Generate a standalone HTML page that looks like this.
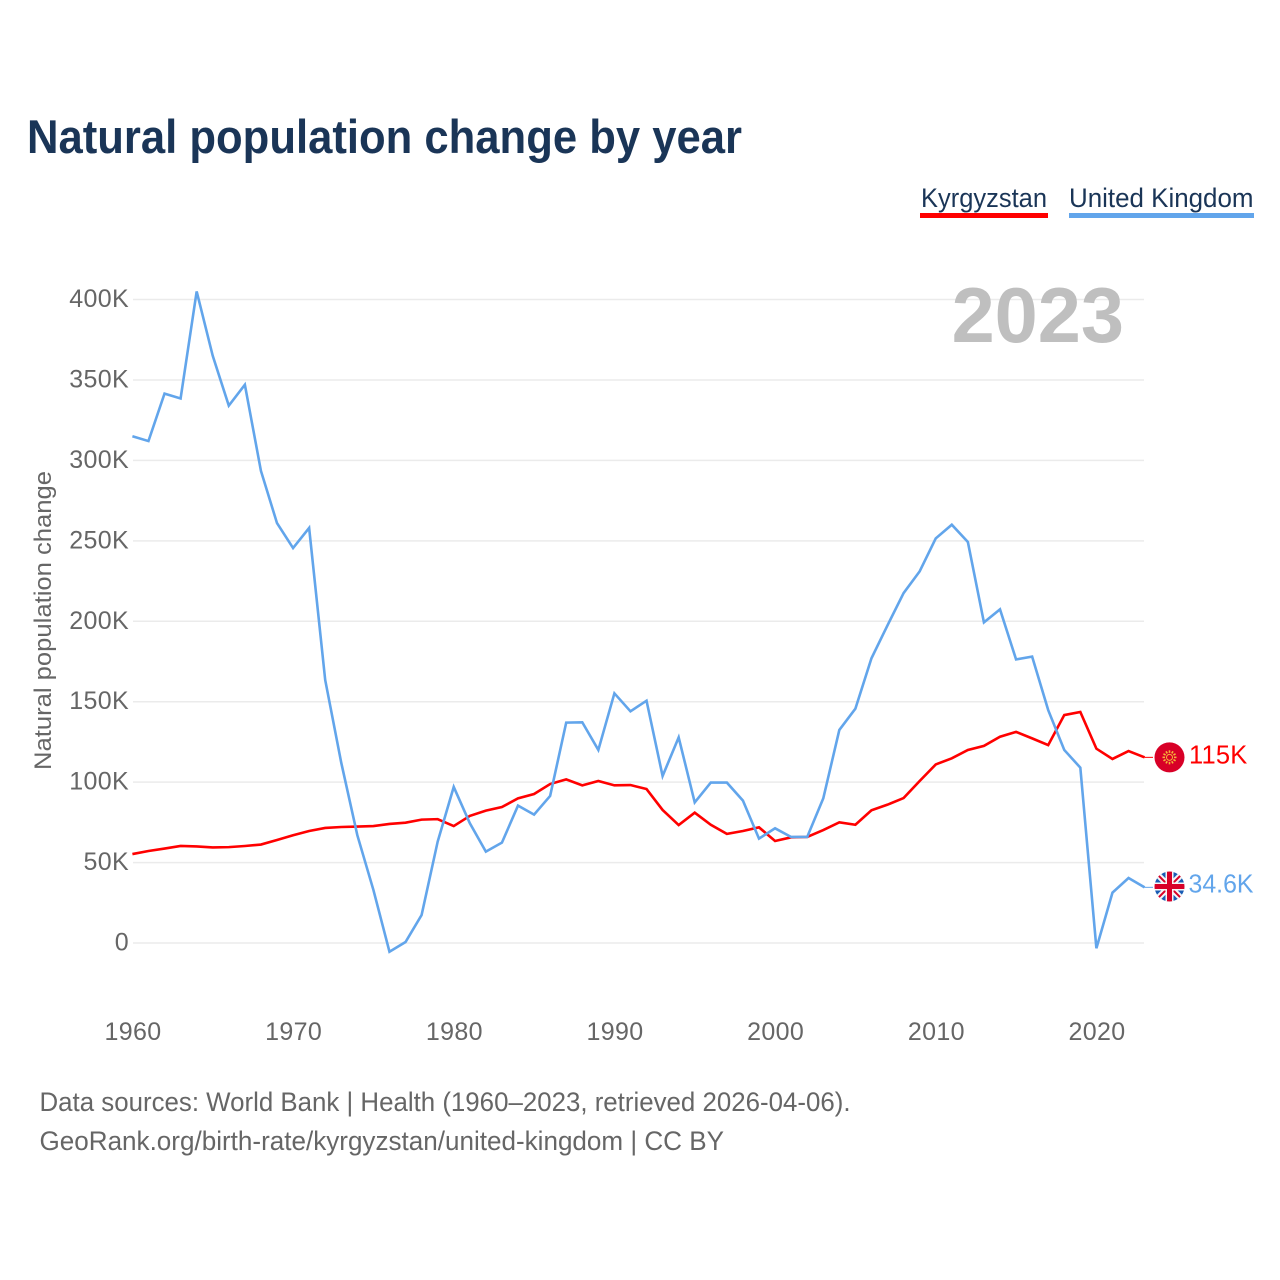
<!DOCTYPE html>
<html lang="en">
<head>
<meta charset="utf-8">
<title>Natural population change by year</title>
<style>
  html, body { margin: 0; padding: 0; background: #fff; }
  svg { display: block; font-family: "Liberation Sans", Arial, sans-serif; }
  text { white-space: pre; }
</style>
</head>
<body>
<svg id="chart" xmlns="http://www.w3.org/2000/svg" width="1280" height="1280" viewBox="0 0 1280 1280">
  <defs>
    <clipPath id="uk-clip"><circle cx="0" cy="0" r="15"/></clipPath>
  </defs>
  <rect width="1280" height="1280" fill="#fff"/>

  <text x="27" y="153" font-size="47" font-weight="700" fill="#1a3557" textLength="715" lengthAdjust="spacingAndGlyphs">Natural population change by year</text>

  <g>
    <g>
      <text x="921" y="207" font-size="26.5" fill="#1a3557" textLength="126" lengthAdjust="spacingAndGlyphs">Kyrgyzstan</text>
      <rect x="920" y="213" width="128" height="5" fill="#ff0000"/>
    </g>
    <g>
      <text x="1069" y="207" font-size="26.5" fill="#1a3557" textLength="184.5" lengthAdjust="spacingAndGlyphs">United Kingdom</text>
      <rect x="1069" y="213" width="185" height="5" fill="#62a5eb"/>
    </g>
  </g>

  <g id="grid"></g>

  <text x="1124" y="342" text-anchor="end" font-size="77.5" font-weight="700" fill="#bfbfbf">2023</text>

  <g id="y-axis"></g>
  <g id="x-axis"></g>

  <text transform="translate(51 770) rotate(-90)" x="0" y="0" font-size="24.5" fill="#666" textLength="299" lengthAdjust="spacingAndGlyphs">Natural population change</text>

  <g id="series"></g>
  <g id="end-labels"></g>

  <text x="39.5" y="1111" font-size="26.5" fill="#666" textLength="811" lengthAdjust="spacingAndGlyphs">Data sources: World Bank | Health (1960–2023, retrieved 2026-04-06).</text>
  <text x="39.5" y="1150" font-size="26.5" fill="#666" textLength="684.5" lengthAdjust="spacingAndGlyphs">GeoRank.org/birth-rate/kyrgyzstan/united-kingdom | CC BY</text>
</svg>

<script>
var years = [1960,1961,1962,1963,1964,1965,1966,1967,1968,1969,
             1970,1971,1972,1973,1974,1975,1976,1977,1978,1979,
             1980,1981,1982,1983,1984,1985,1986,1987,1988,1989,
             1990,1991,1992,1993,1994,1995,1996,1997,1998,1999,
             2000,2001,2002,2003,2004,2005,2006,2007,2008,2009,
             2010,2011,2012,2013,2014,2015,2016,2017,2018,2019,
             2020,2021,2022,2023];

var kyrgyzstan = [55.3,57.2,58.7,60.3,60,59.4,59.6,60.3,61.2,64,
                  67,69.6,71.5,72.1,72.4,72.7,74,74.8,76.7,77,
                  72.7,79,82.3,84.5,89.9,92.6,98.8,101.7,98,100.7,
                  98,98.2,95.7,82.7,73.3,81,73.5,67.8,69.6,71.9,
                  63.4,65.7,65.9,70.2,75,73.5,82.5,86,90.1,100.7,
                  111,114.8,120,122.5,128.2,131.2,127.2,123,141.7,143.6,
                  120.8,114.4,119.3,115.4];

var unitedKingdom = [315,312,341.5,338.5,405,365,334,347,293.5,261,
                     245.5,258,163.5,112,67,33,-5.4,0.6,17.4,63,
                     97,74.5,56.8,62.4,85.4,79.8,91.4,137,137.2,120,
                     155.2,144,150.6,103.8,127.8,87.4,99.7,99.7,88.5,64.9,
                     71.3,65.9,65.9,89.9,132.4,145.7,177,197.5,217.5,231,
                     251.5,260,249.3,199.3,207.4,176.3,178,144.8,120,109,
                     -3.3,31.3,40.4,34.6];

var yTicks = [0,50,100,150,200,250,300,350,400];
var yTickLabels = ["0","50K","100K","150K","200K","250K","300K","350K","400K"];
var xTicks = [1960,1970,1980,1990,2000,2010,2020];
var endLabels = ["115K","34.6K"];

var SVG_NS = "http://www.w3.org/2000/svg";

function xScale(year) { return 132.4 + (year - 1960) * (964 / 60); }
function yScale(v) { return 943 - v * (643.5 / 400); }

function make(tag, attrs, parent) {
  var el = document.createElementNS(SVG_NS, tag);
  for (var k in attrs) { el.setAttribute(k, attrs[k]); }
  parent.appendChild(el);
  return el;
}

var grid = document.getElementById("grid");
var yAxis = document.getElementById("y-axis");
var xAxis = document.getElementById("x-axis");
var seriesGroup = document.getElementById("series");
var endGroup = document.getElementById("end-labels");

yTicks.forEach(function (t, i) {
  var line = make("line", {x1: 133, x2: 1144, y1: yScale(t), y2: yScale(t), stroke: "#ebebeb", "stroke-width": 1.5}, grid);
  
  
  var label = make("text", {x: 129, y: yScale(t) + 7.5, "text-anchor": "end", "font-size": 25, "letter-spacing": 0.35, fill: "#666"}, yAxis);
  
  
  label.textContent = yTickLabels[i];
});

xTicks.forEach(function (t) {
  var label = make("text", {x: xScale(t) + 0.6, y: 1040, "text-anchor": "middle", "font-size": 25, "letter-spacing": 0.35, fill: "#666"}, xAxis);
  
  
  label.textContent = String(t);
});

function pathFor(values) {
  return values.map(function (v, i) {
    return (i === 0 ? "M" : "L") + xScale(years[i]).toFixed(2) + " " + yScale(v).toFixed(2);
  }).join(" ");
}

var redLine = make("path", {d: pathFor(kyrgyzstan), fill: "none", stroke: "#ff0000", "stroke-width": 2.6, "stroke-linejoin": "miter"}, seriesGroup);



var blueLine = make("path", {d: pathFor(unitedKingdom), fill: "none", stroke: "#62a5eb", "stroke-width": 2.6, "stroke-linejoin": "miter"}, seriesGroup);



var lastX = xScale(years[years.length - 1]);

function drawLeader(yPos, color) {
  var leader = make("line", {x1: lastX, x2: 1153, y1: yPos, y2: yPos, stroke: color, "stroke-width": 1}, endGroup);
  
  
}

/* Kyrgyzstan end marker */
var kgY = yScale(kyrgyzstan[kyrgyzstan.length - 1]);
drawLeader(kgY, "#ff0000");
var kgFlag = make("g", {transform: "translate(1169.5 " + kgY.toFixed(2) + ")"}, endGroup);


make("circle", {r: 15, fill: "#d80027"}, kgFlag);
for (var a = 0; a < 12; a++) {
  make("line", {x1: 0, y1: -4.5, x2: 0, y2: -7, stroke: "#f5b53a", "stroke-width": 1.6, transform: "rotate(" + (a * 30) + ")"}, kgFlag);
}
make("circle", {r: 3, fill: "#d80027", stroke: "#f5b53a", "stroke-width": 1}, kgFlag);

var kgLabel = make("text", {x: 1189, y: kgY + 6, "font-size": 25.5, "letter-spacing": 0.2, fill: "#ff0000"}, endGroup);


kgLabel.textContent = endLabels[0];

/* United Kingdom end marker */
var ukY = yScale(unitedKingdom[unitedKingdom.length - 1]);
drawLeader(ukY, "#62a5eb");
var ukFlag = make("g", {transform: "translate(1169.5 " + (ukY - 0.8).toFixed(2) + ")"}, endGroup);


var ukInner = make("g", {"clip-path": "url(#uk-clip)"}, ukFlag);
make("circle", {r: 15, fill: "#1a5cb4"}, ukInner);
make("path", {d: "M-15 -15L15 15M15 -15L-15 15", stroke: "#f6f6f6", "stroke-width": 6, fill: "none"}, ukInner);
make("path", {d: "M-15 -15L15 15M15 -15L-15 15", stroke: "#d80027", "stroke-width": 2, fill: "none"}, ukInner);
make("path", {d: "M0 -15V15M-15 0H15", stroke: "#f6f6f6", "stroke-width": 8, fill: "none"}, ukInner);
make("path", {d: "M0 -15V15M-15 0H15", stroke: "#d80027", "stroke-width": 5, fill: "none"}, ukInner);

var ukLabel = make("text", {x: 1188.5, y: ukY + 5, "font-size": 25.5, fill: "#62a5eb", textLength: 65, lengthAdjust: "spacingAndGlyphs"}, endGroup);


ukLabel.textContent = endLabels[1];
</script>
</body>
</html>
